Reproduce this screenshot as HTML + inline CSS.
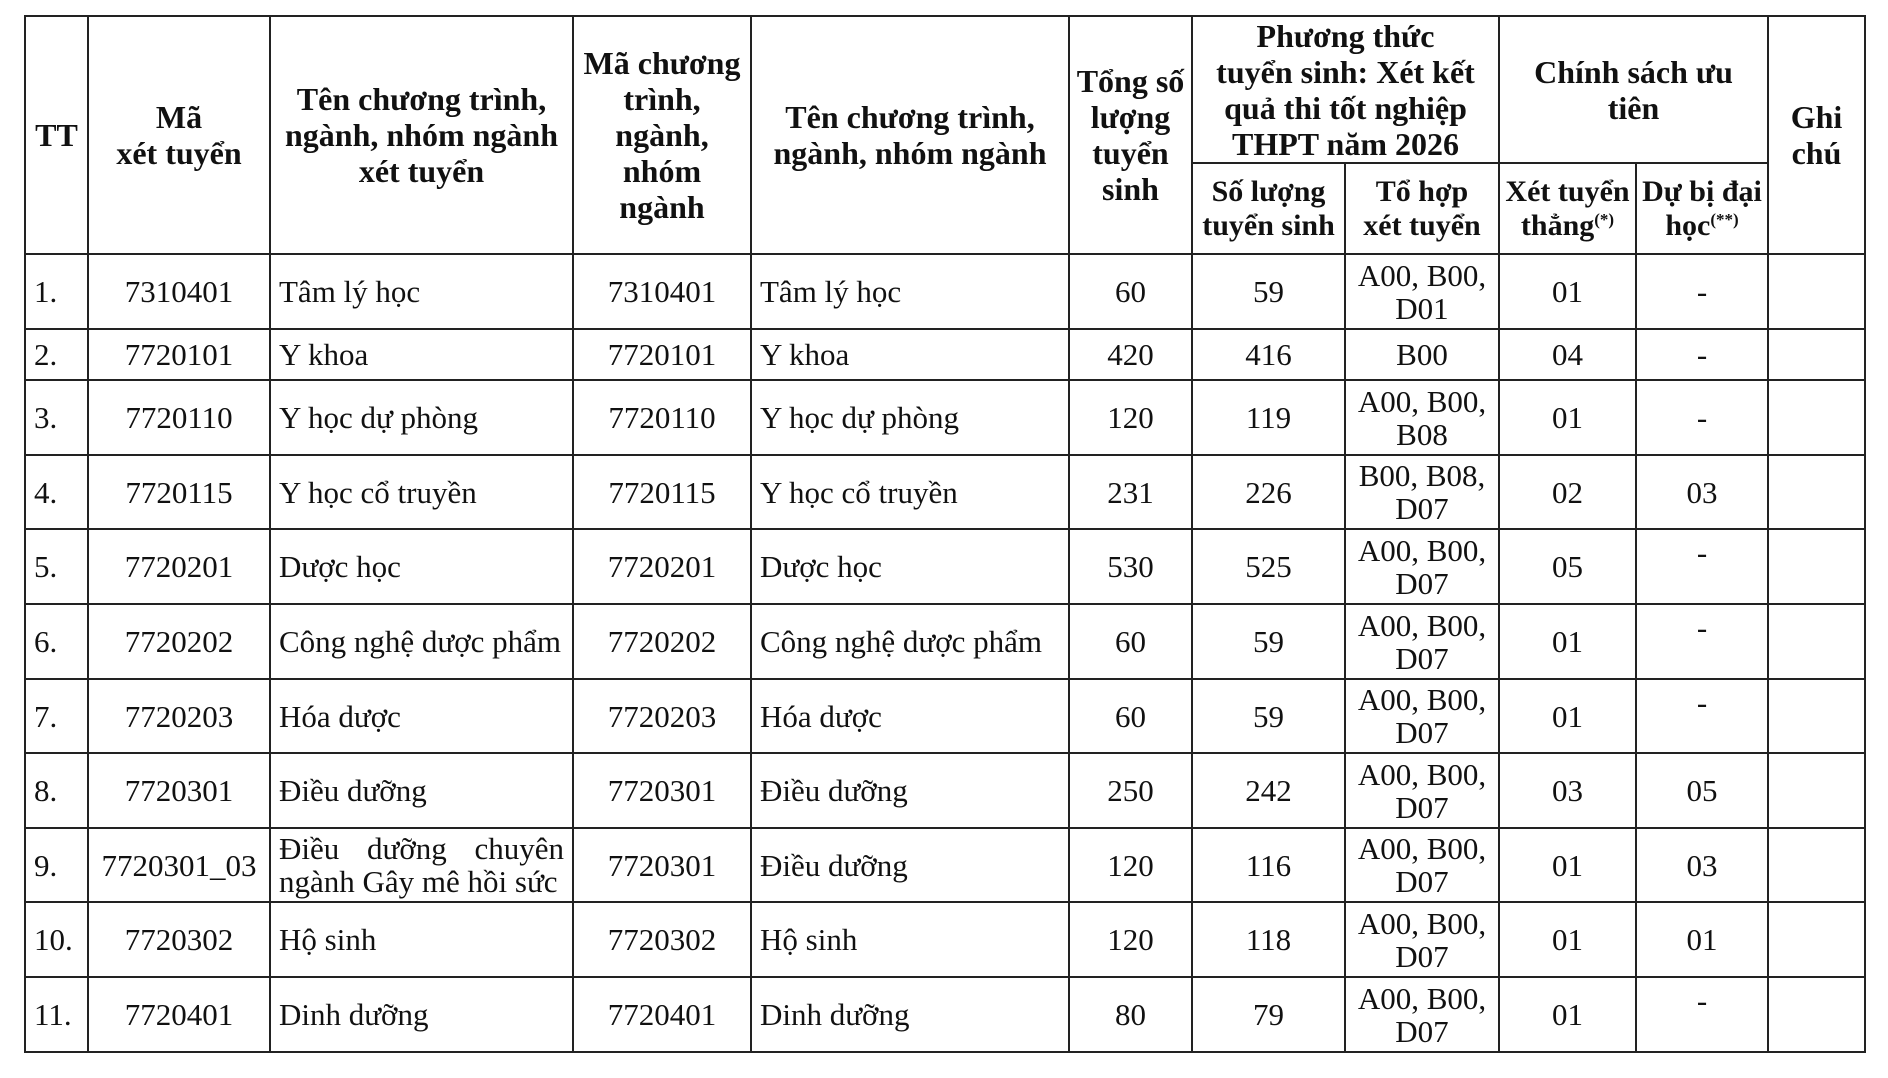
<!DOCTYPE html>
<html><head><meta charset="utf-8"><style>
html,body{margin:0;padding:0;background:#fff;width:1888px;height:1078px;overflow:hidden}
table{position:absolute;left:24px;top:15px;border-collapse:collapse;table-layout:fixed;font-family:"Liberation Serif",serif;font-size:31px;color:#111}
td{border:2px solid #222;padding:0 8px;vertical-align:middle;text-align:center;line-height:33px;overflow:hidden}
th{border:2px solid #222;padding:0 3px;font-weight:bold;font-size:32px;line-height:36px;vertical-align:middle;text-align:center;white-space:nowrap}
td.l{text-align:left}
td.j{text-align:justify}
sup{font-size:17px;line-height:0;vertical-align:10px}
.s th{line-height:34px;font-size:30px}
</style></head><body>
<table>
<colgroup><col style="width:63px"><col style="width:182px"><col style="width:303px"><col style="width:178px"><col style="width:318px"><col style="width:123px"><col style="width:153px"><col style="width:154px"><col style="width:137px"><col style="width:132px"><col style="width:97px"></colgroup>
<tr style="height:147px">
<th rowspan="2">TT</th><th rowspan="2">Mã<br>xét tuyển</th><th rowspan="2">Tên chương trình,<br>ngành, nhóm ngành<br>xét tuyển</th><th rowspan="2">Mã chương<br>trình,<br>ngành,<br>nhóm<br>ngành</th><th rowspan="2">Tên chương trình,<br>ngành, nhóm ngành</th><th rowspan="2">Tổng số<br>lượng<br>tuyển<br>sinh</th><th colspan="2">Phương thức<br>tuyển sinh: Xét kết<br>quả thi tốt nghiệp<br>THPT năm 2026</th><th colspan="2">Chính sách ưu<br>tiên</th><th rowspan="2">Ghi<br>chú</th></tr>
<tr style="height:91px" class="s"><th>Số lượng<br>tuyển sinh</th><th>Tổ hợp<br>xét tuyển</th><th>Xét tuyển<br>thẳng<sup>(*)</sup></th><th>Dự bị đại<br>học<sup>(**)</sup></th></tr>
<tr style="height:75px"><td class="l">1.</td><td>7310401</td><td class="l">Tâm lý học</td><td>7310401</td><td class="l">Tâm lý học</td><td>60</td><td>59</td><td>A00, B00,<br>D01</td><td>01</td><td>-</td><td></td></tr>
<tr style="height:51px"><td class="l">2.</td><td>7720101</td><td class="l">Y khoa</td><td>7720101</td><td class="l">Y khoa</td><td>420</td><td>416</td><td>B00</td><td>04</td><td>-</td><td></td></tr>
<tr style="height:75px"><td class="l">3.</td><td>7720110</td><td class="l">Y học dự phòng</td><td>7720110</td><td class="l">Y học dự phòng</td><td>120</td><td>119</td><td>A00, B00,<br>B08</td><td>01</td><td>-</td><td></td></tr>
<tr style="height:74px"><td class="l">4.</td><td>7720115</td><td class="l">Y học cổ truyền</td><td>7720115</td><td class="l">Y học cổ truyền</td><td>231</td><td>226</td><td>B00, B08,<br>D07</td><td>02</td><td>03</td><td></td></tr>
<tr style="height:75px"><td class="l">5.</td><td>7720201</td><td class="l">Dược học</td><td>7720201</td><td class="l">Dược học</td><td>530</td><td>525</td><td>A00, B00,<br>D07</td><td>05</td><td style="vertical-align:top;padding-top:6px">-</td><td></td></tr>
<tr style="height:75px"><td class="l">6.</td><td>7720202</td><td class="l">Công nghệ dược phẩm</td><td>7720202</td><td class="l">Công nghệ dược phẩm</td><td>60</td><td>59</td><td>A00, B00,<br>D07</td><td>01</td><td style="vertical-align:top;padding-top:6px">-</td><td></td></tr>
<tr style="height:74px"><td class="l">7.</td><td>7720203</td><td class="l">Hóa dược</td><td>7720203</td><td class="l">Hóa dược</td><td>60</td><td>59</td><td>A00, B00,<br>D07</td><td>01</td><td style="vertical-align:top;padding-top:6px">-</td><td></td></tr>
<tr style="height:75px"><td class="l">8.</td><td>7720301</td><td class="l">Điều dưỡng</td><td>7720301</td><td class="l">Điều dưỡng</td><td>250</td><td>242</td><td>A00, B00,<br>D07</td><td>03</td><td>05</td><td></td></tr>
<tr style="height:74px"><td class="l">9.</td><td style="padding:0 3px">7720301_03</td><td class="j">Điều dưỡng chuyên ngành Gây mê hồi sức</td><td>7720301</td><td class="l">Điều dưỡng</td><td>120</td><td>116</td><td>A00, B00,<br>D07</td><td>01</td><td>03</td><td></td></tr>
<tr style="height:75px"><td class="l">10.</td><td>7720302</td><td class="l">Hộ sinh</td><td>7720302</td><td class="l">Hộ sinh</td><td>120</td><td>118</td><td>A00, B00,<br>D07</td><td>01</td><td>01</td><td></td></tr>
<tr style="height:75px"><td class="l">11.</td><td>7720401</td><td class="l">Dinh dưỡng</td><td>7720401</td><td class="l">Dinh dưỡng</td><td>80</td><td>79</td><td>A00, B00,<br>D07</td><td>01</td><td style="vertical-align:top;padding-top:6px">-</td><td></td></tr>
</table>
</body></html>
